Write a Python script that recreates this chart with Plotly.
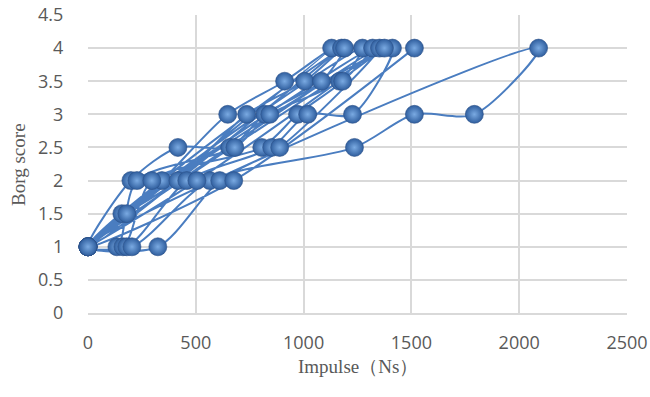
import plotly.graph_objects as go

# Each subject: impulse (Ns) and Borg score, concatenated into one series (Excel-style)
subj_impulse = [
    [0, 157, 343, 648, 912, 1130],
    [0, 180, 417, 736, 1005, 1176],
    [0, 199, 417, 657, 820, 1083, 1190],
    [0, 134, 227, 681, 843, 1167, 1273],
    [0, 162, 296, 806, 972, 1181, 1320],
    [0, 180, 458, 852, 1019, 1227, 1412],
    [0, 204, 565, 1236, 1514, 1792, 2090],
    [0, 324, 611, 889, 1352],
    [0, 505, 1375],
    [0, 676, 1514],
]
subj_borg = [
    [1, 1.5, 2, 3, 3.5, 4],
    [1, 1.5, 2, 3, 3.5, 4],
    [1, 2, 2.5, 2.5, 3, 3.5, 4],
    [1, 1, 2, 2.5, 3, 3.5, 4],
    [1, 1, 2, 2.5, 3, 3.5, 4],
    [1, 1, 2, 2.5, 3, 3, 4],
    [1, 1, 2, 2.5, 3, 3, 4],
    [1, 1, 2, 2.5, 4],
    [1, 2, 4],
    [1, 2, 4],
]
x_ticks = [0, 500, 1000, 1500, 2000, 2500]
y_ticks = [0, 0.5, 1, 1.5, 2, 2.5, 3, 3.5, 4, 4.5]

xs, ys = [], []
for a, b in zip(subj_impulse, subj_borg):
    xs += a
    ys += b

fig = go.Figure()
fig.add_trace(go.Scatter(
    x=xs, y=ys, mode="lines+markers",
    line=dict(color="#4A7DC0", width=2, shape="spline", smoothing=0.8),
    marker=dict(size=18, color="#2F5E9E",
                gradient=dict(type="radial", color="#7AAAE2"),
                line=dict(color="#2B5088", width=0.6)),
    cliponaxis=False, showlegend=False,
))

grid = "#D9D9D9"
tickfont = dict(family="Open Sans, Liberation Sans, sans-serif", size=18, color="#595959")
titlefont = dict(family="Liberation Serif, Noto Serif, serif", size=19, color="#595959")

fig.update_layout(
    width=650, height=397,
    margin=dict(l=88, r=23, t=15, b=84, autoexpand=False),
    paper_bgcolor="white", plot_bgcolor="white",
    xaxis=dict(range=[0, 2500], tickvals=x_ticks, showgrid=True, gridcolor=grid,
               gridwidth=1.5, zeroline=False, showline=True, linecolor=grid, linewidth=1.5,
               mirror=False, tickfont=tickfont, ticks="", ticklabelstandoff=13,
               automargin=False),
    yaxis=dict(range=[0, 4.5], tickvals=y_ticks, showgrid=True, gridcolor=grid,
               gridwidth=1.5, zeroline=False, showline=False, tickfont=tickfont,
               ticks="outside", ticklen=20, tickcolor="rgba(0,0,0,0)", automargin=False),
    annotations=[
        dict(text="Impulse（Ns）", xref="paper", yref="paper", x=0.5, y=-0.178,
             xanchor="center", yanchor="middle", showarrow=False, font=titlefont),
        dict(text="Borg score", xref="paper", yref="paper", x=-0.13, y=0.5,
             xanchor="center", yanchor="middle", showarrow=False, textangle=-90,
             font=titlefont),
    ],
)
fig.write_html("out.html")
